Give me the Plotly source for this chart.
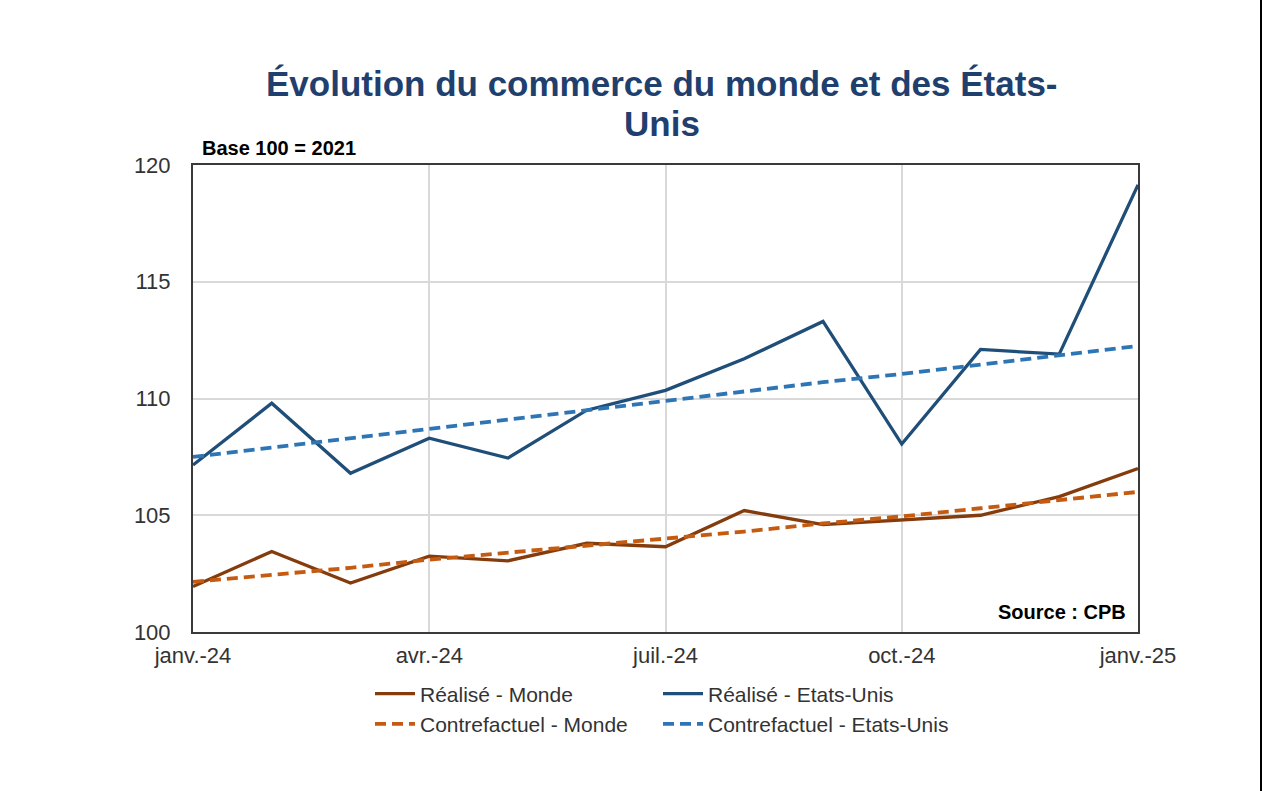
import plotly.graph_objects as go

months = ["janv.-24", "févr.-24", "mars-24", "avr.-24", "mai-24", "juin-24", "juil.-24",
          "août-24", "sept.-24", "oct.-24", "nov.-24", "déc.-24", "janv.-25"]
tick_labels = ["janv.-24", "avr.-24", "juil.-24", "oct.-24", "janv.-25"]

realise_monde = [101.95, 103.45, 102.1, 103.25, 103.05, 103.8, 103.65, 105.2, 104.6, 104.8, 105.0, 105.8, 107.0]
realise_us = [107.15, 109.8, 106.8, 108.3, 107.45, 109.5, 110.35, 111.7, 113.3, 108.05, 112.1, 111.9, 119.15]
contre_monde = [102.15, 102.45, 102.75, 103.1, 103.4, 103.7, 104.0, 104.3, 104.65, 104.95, 105.3, 105.65, 106.0]
contre_us = [107.5, 107.9, 108.3, 108.7, 109.1, 109.5, 109.9, 110.3, 110.7, 111.05, 111.45, 111.85, 112.25]

FONT = "Liberation Sans, Arial, sans-serif"

fig = go.Figure()
fig.add_trace(go.Scatter(x=months, y=realise_monde, mode="lines", name="Réalisé - Monde",
                         line=dict(color="#843C0C", width=3.3), legend="legend"))
fig.add_trace(go.Scatter(x=months, y=contre_monde, mode="lines", name="Contrefactuel - Monde",
                         line=dict(color="#C55A11", width=3.8, dash="11px,6px"), legend="legend"))
fig.add_trace(go.Scatter(x=months, y=realise_us, mode="lines", name="Réalisé - Etats-Unis",
                         line=dict(color="#1F4E79", width=3.3), legend="legend2"))
fig.add_trace(go.Scatter(x=months, y=contre_us, mode="lines", name="Contrefactuel - Etats-Unis",
                         line=dict(color="#2E75B6", width=3.8, dash="11px,6px"), legend="legend2"))

legend_common = dict(orientation="v", xref="paper", yref="paper", xanchor="left", yanchor="middle",
                     font=dict(family=FONT, size=21, color="#333333"), bgcolor="rgba(0,0,0,0)",
                     itemwidth=40, tracegroupgap=0, traceorder="normal")

fig.update_layout(
    width=1265, height=791,
    margin=dict(l=193, r=127, t=165, b=159),
    paper_bgcolor="white", plot_bgcolor="white",
    showlegend=True,
    legend=dict(x=(370 - 193) / 945, y=-(709 - 632) / 467, **legend_common),
    legend2=dict(x=(658 - 193) / 945, y=-(709 - 632) / 467, **legend_common),
    xaxis=dict(type="category", categoryorder="array", categoryarray=months,
               range=[0, 12], tickmode="array", tickvals=tick_labels, ticktext=tick_labels,
               showgrid=True, gridcolor="#d9d9d9", gridwidth=1.5,
               showline=True, linecolor="#3a3a3a", linewidth=2, mirror=True,
               ticks="", ticklabelstandoff=3,
               tickfont=dict(family=FONT, size=22, color="#333333")),
    yaxis=dict(range=[100, 120], tickvals=[100, 105, 110, 115, 120],
               showgrid=True, gridcolor="#d9d9d9", gridwidth=1.5,
               showline=True, linecolor="#3a3a3a", linewidth=2, mirror=True,
               ticks="", ticklen=0, ticklabelstandoff=16,
               tickfont=dict(family=FONT, size=22, color="#333333"),
               zeroline=False),
    annotations=[
        dict(text="<b>Évolution du commerce du monde et des États-</b>",
             xref="paper", yref="paper", x=(662 - 193) / 945, y=(632 - 83) / 467,
             xanchor="center", yanchor="middle", showarrow=False,
             font=dict(family=FONT, size=35, color="#1F3F6E")),
        dict(text="<b>Unis</b>",
             xref="paper", yref="paper", x=(662 - 193) / 945, y=(632 - 123) / 467,
             xanchor="center", yanchor="middle", showarrow=False,
             font=dict(family=FONT, size=35, color="#1F3F6E")),
        dict(text="<b>Base 100 = 2021</b>", xref="paper", yref="paper",
             x=(200 - 193) / 945, y=(632 - 148) / 467, xanchor="left", yanchor="middle",
             showarrow=False, font=dict(family=FONT, size=20, color="#000000")),
        dict(text="<b>Source : CPB</b>", xref="paper", yref="paper",
             x=(1128 - 193) / 945, y=(632 - 612) / 467, xanchor="right", yanchor="middle",
             showarrow=False, font=dict(family=FONT, size=20, color="#000000")),
    ],
    shapes=[
        dict(type="line", xref="paper", yref="paper",
             x0=(1261 - 193) / 945, x1=(1261 - 193) / 945,
             y0=-(791 - 632) / 467, y1=632 / 467,
             line=dict(color="#000000", width=2)),
    ],
)

fig.write_html("out.html")
